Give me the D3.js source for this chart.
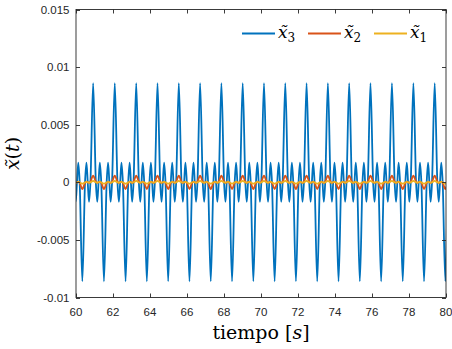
<!DOCTYPE html>
<html lang="es">
<head>
<meta charset="UTF-8">
<title>x(t)</title>
<script src="https://d3js.org/d3.v7.min.js"></script>
<style>
  body { margin: 0; background: #fff; }
  .tick-label { font-family: "Liberation Sans", Arial, sans-serif; font-size: 11.5px; fill: #262626; }
</style>
</head>
<body>
<svg width="452" height="349"></svg>
<script>
// ---- data ----
const xTicks = [60, 62, 64, 66, 68, 70, 72, 74, 76, 78, 80];
const yTicks = [-0.01, -0.005, 0, 0.005, 0.01, 0.015];
const yTickLabels = ["-0.01", "-0.005", "0", "0.005", "0.01", "0.015"];

// times (s) of the deep troughs of x3
const troughTimes = [59.191, 60.342, 61.511, 62.680, 63.830, 64.982, 66.133, 67.284, 68.435,
  69.586, 70.737, 71.888, 73.039, 74.191, 75.342, 76.493, 77.662, 78.813, 79.964, 81.115];

// shape of one cycle: phase (fraction from trough to next trough) and values
const cyclePhase = [0, 0.125, 0.19, 0.25, 0.31, 0.375, 0.5, 0.625, 0.69, 0.75, 0.81, 0.875];
const x3Cycle = [-0.0086, 0, 0.0017, 0, -0.0017, 0, 0.0086, 0, -0.0017, 0, 0.0017, 0];
const x2Cycle = [-0.00058, -0.00006, 0.00005, 0, -0.00005, 0.00006, 0.00058, 0.00006, -0.00005, 0, 0.00005, -0.00006];
const x1Cycle = [-0.00012, 0, 0.00003, 0, -0.00003, 0, 0.00012, 0, -0.00003, 0, 0.00003, 0];

const seriesNames = ["3", "2", "1"];
const seriesColors = ["#0072BD", "#D95319", "#EDB120"];

// ---- layout ----
const svg = d3.select("svg");
const left = 76, right = 446, plotTop = 9.5, plotBottom = 297.5;
const serif = "'DejaVu Serif', serif";

const x = d3.scaleLinear().domain([60, 80]).range([left, right]);
const y = d3.scaleLinear().domain([-0.01, 0.015]).range([plotBottom, plotTop]);

function buildSeries(cycle) {
  const pts = [];
  for (let i = 0; i < troughTimes.length - 1; i++) {
    const t0 = troughTimes[i], T = troughTimes[i + 1] - t0;
    cyclePhase.forEach((p, j) => pts.push([t0 + p * T, cycle[j]]));
  }
  pts.push([troughTimes[troughTimes.length - 1], cycle[0]]);
  return pts;
}

svg.append("defs").append("clipPath").attr("id", "plot")
  .append("rect").attr("x", left).attr("y", plotTop).attr("width", right - left).attr("height", plotBottom - plotTop);

const line = d3.line()
  .x(d => x(d[0]))
  .y(d => y(d[1]))
  .curve(d3.curveMonotoneX);

const lines = svg.append("g").attr("clip-path", "url(#plot)");
[x3Cycle, x2Cycle, x1Cycle].forEach((c, i) => {
  lines.append("path")
    .datum(buildSeries(c))
    .attr("fill", "none")
    .attr("stroke", seriesColors[i])
    .attr("stroke-width", 1.8)
    .attr("stroke-linejoin", "round")
    .attr("d", line);
});

// ---- axes box and ticks ----
const axisColor = "#262626";
svg.append("rect")
  .attr("x", left).attr("y", plotTop)
  .attr("width", right - left).attr("height", plotBottom - plotTop)
  .attr("fill", "none").attr("stroke", axisColor).attr("stroke-width", 0.9);

const tl = 4;
xTicks.forEach(v => {
  const px = Math.round(x(v)) + 0.5;
  svg.append("line").attr("x1", px).attr("x2", px).attr("y1", plotBottom).attr("y2", plotBottom - tl)
    .attr("stroke", axisColor).attr("stroke-width", 0.9);
  svg.append("line").attr("x1", px).attr("x2", px).attr("y1", plotTop).attr("y2", plotTop + tl)
    .attr("stroke", axisColor).attr("stroke-width", 0.9);
  svg.append("text").attr("class", "tick-label")
    .attr("x", x(v)).attr("y", 315.5).attr("text-anchor", "middle").text(v);
});

yTicks.forEach((v, i) => {
  const py = Math.round(y(v)) + 0.5;
  svg.append("line").attr("x1", left).attr("x2", left + tl).attr("y1", py).attr("y2", py)
    .attr("stroke", axisColor).attr("stroke-width", 0.9);
  svg.append("line").attr("x1", right).attr("x2", right - tl).attr("y1", py).attr("y2", py)
    .attr("stroke", axisColor).attr("stroke-width", 0.9);
  svg.append("text").attr("class", "tick-label")
    .attr("x", 69.5).attr("y", y(v) + 4).attr("text-anchor", "end").text(yTickLabels[i]);
});

// ---- axis labels ----
const xl = svg.append("text")
  .attr("font-family", serif).attr("fill", "#000")
  .attr("x", (left + right) / 2).attr("y", 339).attr("text-anchor", "middle")
  .attr("font-size", 19);
xl.append("tspan").text("tiempo [");
xl.append("tspan").attr("font-style", "italic").text("s");
xl.append("tspan").text("]");

const yl = svg.append("text")
  .attr("font-family", serif).attr("fill", "#000")
  .attr("transform", `translate(19,${(plotTop + plotBottom) / 2}) rotate(-90)`)
  .attr("text-anchor", "middle").attr("font-size", 19);
yl.append("tspan").attr("font-style", "italic").text("x\u0303");
yl.append("tspan").text("(");
yl.append("tspan").attr("font-style", "italic").text("t");
yl.append("tspan").text(")");

// ---- legend ----
const legendX = [242, 308, 374];
seriesNames.forEach((n, i) => {
  const lx = legendX[i];
  svg.append("line").attr("x1", lx).attr("x2", lx + 33).attr("y1", 33.5).attr("y2", 33.5)
    .attr("stroke", seriesColors[i]).attr("stroke-width", 1.8);
  const t = svg.append("text")
    .attr("font-family", serif).attr("fill", "#000")
    .attr("x", lx + 36).attr("y", 38).attr("font-size", 17);
  t.append("tspan").attr("font-style", "italic").text("x\u0303");
  t.append("tspan").attr("font-size", 12).attr("dy", 4).text(n);
});
</script>
</body>
</html>
